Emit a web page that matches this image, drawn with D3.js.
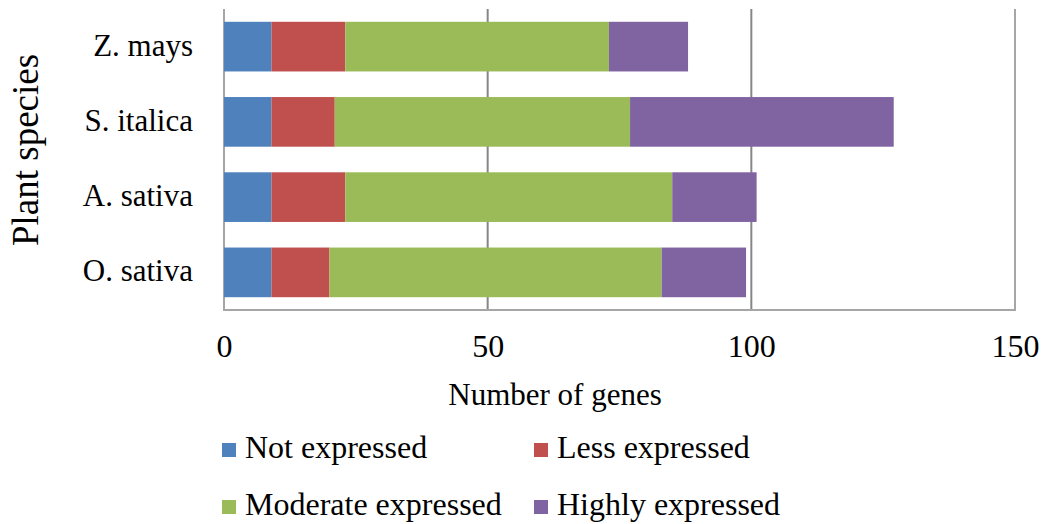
<!DOCTYPE html>
<html>
<head>
<meta charset="utf-8">
<script src="https://cdn.jsdelivr.net/npm/d3@7/dist/d3.min.js"></script>
<style>
  body { margin: 0; background: #fff; }
  svg { display: block; }
  svg text { font-family: 'Liberation Serif', 'Times New Roman', Times, 'DejaVu Serif', serif !important; fill: #000; }
</style>
</head>
<body>
<svg id="chart" width="1044" height="524"></svg>
<script>
const categories = ["Z. mays", "S. italica", "A. sativa", "O. sativa"];
const seriesNames = ["Not expressed", "Less expressed", "Moderate expressed", "Highly expressed"];
const notExpressed = [9, 9, 9, 9];
const lessExpressed = [14, 12, 14, 11];
const moderateExpressed = [50, 56, 62, 63];
const highlyExpressed = [15, 50, 16, 16];
const xTicks = [0, 50, 100, 150];
const colors = ["#4F81BD", "#C0504D", "#9BBB59", "#8064A2"];

const seriesValues = [notExpressed, lessExpressed, moderateExpressed, highlyExpressed];
const rows = categories.map((c, i) => {
  const r = { cat: c };
  seriesNames.forEach((s, j) => r[s] = seriesValues[j][i]);
  return r;
});

const svg = d3.select("#chart");
const mLeft = 224, mRight = 1015, mTop = 9, mBottom = 310;
const FONT = "'Liberation Serif', 'Times New Roman', serif";

const x = d3.scaleLinear().domain([0, 150]).range([mLeft, mRight]);
const y = d3.scaleBand().domain(categories).range([mTop, mBottom]).paddingInner(0.34).paddingOuter(0.17);

// gridlines
svg.append("g").selectAll("line").data(xTicks.filter(t => t > 0 && t < 150)).join("line")
  .attr("x1", d => x(d)).attr("x2", d => x(d))
  .attr("y1", mTop).attr("y2", mBottom)
  .attr("stroke", "#868686").attr("stroke-width", 2);

// plot border (left, bottom, right)
svg.append("path")
  .attr("d", `M${mLeft},${mTop}V${mBottom}H${mRight}V${mTop}`)
  .attr("fill", "none").attr("stroke", "#a6a6a6").attr("stroke-width", 2);

const stack = d3.stack().keys(seriesNames)(rows);
svg.append("g").selectAll("g").data(stack).join("g")
  .attr("fill", (d, i) => colors[i])
  .selectAll("rect").data(d => d).join("rect")
  .attr("x", d => x(d[0]))
  .attr("width", d => x(d[1]) - x(d[0]))
  .attr("y", d => y(d.data.cat))
  .attr("height", y.bandwidth());

// x tick labels
const xAxis = d3.axisBottom(x).tickValues(xTicks).tickSize(0).tickPadding(0);
const gx = svg.append("g").attr("transform", `translate(0,${mBottom})`).call(xAxis)
  .attr("font-family", FONT).attr("font-size", 32);
gx.select(".domain").remove();
gx.selectAll("text").attr("dy", null).attr("y", 47).attr("fill", "#000");

// y category labels
const yAxis = d3.axisLeft(y).tickSize(0).tickPadding(0);
const gy = svg.append("g").attr("transform", `translate(193,0)`).call(yAxis)
  .attr("font-family", FONT).attr("font-size", 31);
gy.select(".domain").remove();
gy.selectAll("text").attr("dy", null).attr("y", 9).attr("fill", "#000");

// axis titles
svg.append("text").attr("x", 555).attr("y", 405).attr("text-anchor", "middle")
  .attr("font-family", FONT).attr("font-size", 31).text("Number of genes");
svg.append("text").attr("transform", "translate(38,150) rotate(-90)").attr("text-anchor", "middle")
  .attr("font-family", FONT).attr("font-size", 37).text("Plant species");

// legend
const legendPos = [[222, 458], [534, 458], [222, 515], [534, 515]];
const lg = svg.append("g").selectAll("g").data(seriesNames).join("g")
  .attr("transform", (d, i) => `translate(${legendPos[i][0]},${legendPos[i][1]})`);
lg.append("rect").attr("x", 0).attr("y", -15).attr("width", 14).attr("height", 14)
  .attr("fill", (d, i) => colors[i]);
lg.append("text").attr("x", 23).attr("y", 0)
  .attr("font-family", FONT).attr("font-size", 32).text(d => d);
</script>
</body>
</html>
